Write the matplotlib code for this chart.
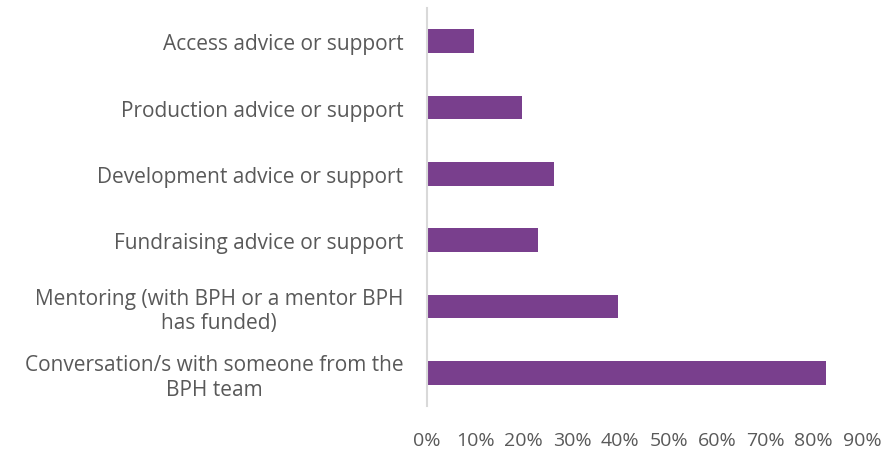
import matplotlib.pyplot as plt
from matplotlib.ticker import PercentFormatter

categories = [
    "Access advice or support",
    "Production advice or support",
    "Development advice or support",
    "Fundraising advice or support",
    "Mentoring (with BPH or a mentor BPH\nhas funded)",
    "Conversation/s with someone from the\nBPH team",
]
values = [0.097, 0.197, 0.263, 0.230, 0.395, 0.826]
ticks = [0, 0.1, 0.2, 0.3, 0.4, 0.5, 0.6, 0.7, 0.8, 0.9]

bar_color = "#793F8D"
text_color = "#595959"

plt.rcParams['font.family'] = ['Open Sans', 'DejaVu Sans']

fig = plt.figure(figsize=(8.95, 4.52), dpi=100)
ax = fig.add_axes([0.477, 0.0996, 0.486, 0.8804])

ax.barh(range(len(categories)), values, height=0.36, color=bar_color)
ax.set_ylim(len(categories) - 0.5, -0.5)
ax.set_xlim(0, 0.9)

ax.set_yticks(range(len(categories)))
ax.set_yticklabels(categories, fontsize=15, color=text_color, linespacing=1.2)
for t in ax.get_yticklabels():
    t.set_multialignment('center')
ax.set_xticks(ticks)
ax.xaxis.set_major_formatter(PercentFormatter(1.0, decimals=0))
ax.tick_params(axis='x', length=0, pad=18, labelsize=14, labelcolor=text_color)
ax.tick_params(axis='y', length=0, pad=17)

for s in ['top', 'right', 'bottom']:
    ax.spines[s].set_visible(False)
ax.spines['left'].set_color('#D9D9D9')
ax.spines['left'].set_linewidth(1.5)

fig.savefig("out.png", dpi=100)
